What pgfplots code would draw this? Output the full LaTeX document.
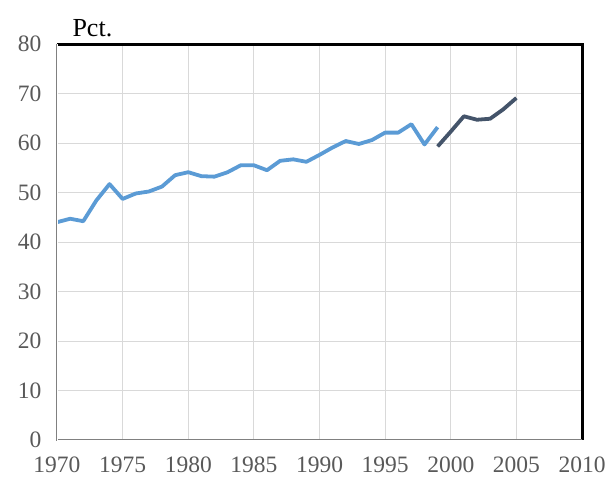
\documentclass[border=0pt]{standalone}
\usepackage{pgfplots}
\pgfplotsset{compat=1.18}
\usepackage{fontspec}
\setmainfont{Liberation Serif}
\definecolor{lblue}{HTML}{5B9BD5}
\definecolor{dblue}{HTML}{44546A}
\definecolor{tickgray}{HTML}{595959}
\definecolor{gridgray}{HTML}{D9D9D9}
\begin{document}
\begin{tikzpicture}
\path[use as bounding box] (-57pt,-37pt) rectangle (549pt,440pt);
\begin{axis}[
  scale only axis, width=525pt, height=396pt,
  at={(0,0)}, anchor=south west,
  xmin=1970, xmax=2010, ymin=0, ymax=80,
  xtick={1970,1975,...,2010}, ytick={0,10,...,80},
  grid=major, major grid style={gridgray, line width=1pt},
  major tick length=0pt,
  axis line style={draw=none},
  /pgf/number format/1000 sep={},
  /pgf/number format/assume math mode=true,
  tick label style={font=\fontsize{23.5}{26}\selectfont, text=tickgray},
  xticklabel style={yshift=-13pt},
  yticklabel style={xshift=-12pt},
  clip=false,
]
\addplot[lblue, line width=3.8pt, line join=round] coordinates {
(1970,44.0)(1971,44.7)(1972,44.2)(1973,48.4)(1974,51.7)(1975,48.7)(1976,49.8)(1977,50.2)(1978,51.2)(1979,53.5)
(1980,54.1)(1981,53.3)(1982,53.2)(1983,54.1)(1984,55.5)(1985,55.5)(1986,54.5)(1987,56.4)(1988,56.7)(1989,56.2)
(1990,57.6)(1991,59.1)(1992,60.4)(1993,59.8)(1994,60.6)(1995,62.1)(1996,62.1)(1997,63.8)(1998,59.7)(1999,63.2)};
\addplot[dblue, line width=3.8pt, line join=round] coordinates {
(1999,59.3)(2000,62.3)(2001,65.4)(2002,64.7)(2003,64.9)(2004,66.8)(2005,69.1)};
\draw[black, line width=3pt] (rel axis cs:0,1) -- (rel axis cs:1,1) -- (rel axis cs:1,0);
\draw[gray, line width=2.4pt] (rel axis cs:0,1) -- (rel axis cs:0,0) -- (rel axis cs:1,0);
\draw[white, line width=0.7pt] (rel axis cs:0,1) -- (rel axis cs:0,0) -- (rel axis cs:1,0);
\node[font=\fontsize{26}{28}\selectfont, anchor=base west] at ([xshift=12pt,yshift=8pt]rel axis cs:0,1) {Pct.};
\end{axis}
\end{tikzpicture}
\end{document}
